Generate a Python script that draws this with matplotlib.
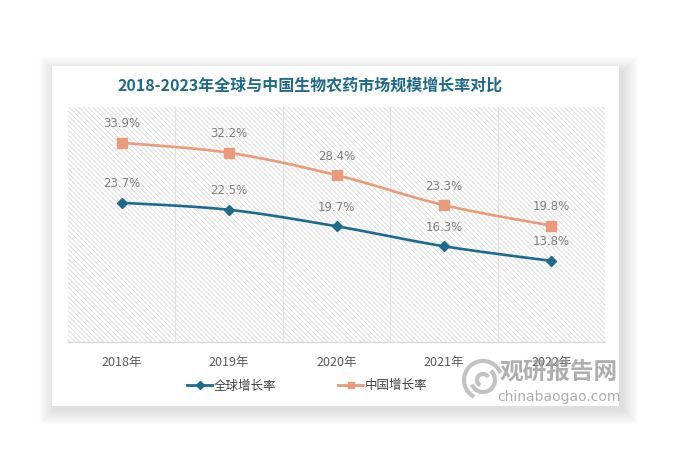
import numpy as np
import matplotlib
matplotlib.use("Agg")
import matplotlib.pyplot as plt
from matplotlib.patches import Rectangle, Arc
from matplotlib.lines import Line2D

plt.rcParams['font.family'] = ['Noto Sans CJK SC', 'DejaVu Sans']

years = ["2018年", "2019年", "2020年", "2021年", "2022年"]
global_rate = [23.7, 22.5, 19.7, 16.3, 13.8]
china_rate = [33.9, 32.2, 28.4, 23.3, 19.8]
series_names = ["全球增长率", "中国增长率"]
title = "2018-2023年全球与中国生物农药市场规模增长率对比"

BLUE = "#1C6A8E"
ORANGE = "#E99B7A"

W, H = 675, 468
fig = plt.figure(figsize=(W / 100, H / 100), dpi=100)
fig.patch.set_facecolor("white")

def fx(x):
    return x / W

def fy(y):
    return 1 - y / H

# card shadow (soft)
cx0, cy0, cx1, cy1 = 52, 66, 619, 406
for i in range(16, 0, -1):
    fig.patches.append(Rectangle((fx(cx0 - i + 3), fy(cy1 + i + 3)),
                                 (cx1 - cx0 + 2 * i) / W, (cy1 - cy0 + 2 * i - 3) / H,
                                 transform=fig.transFigure, facecolor="#000000",
                                 alpha=0.0075, edgecolor="none", zorder=0))
fig.patches.append(Rectangle((fx(cx0), fy(cy1)), (cx1 - cx0) / W, (cy1 - cy0) / H,
                             transform=fig.transFigure, facecolor="white",
                             edgecolor="none", zorder=1))

ax = fig.add_axes([fx(68), fy(342), (605 - 68) / W, (342 - 107) / H])
ax.set_zorder(2)
ax.set_facecolor("white")
plt.rcParams['hatch.color'] = "#d4d4d4"
plt.rcParams['hatch.linewidth'] = 0.5
ax.add_patch(Rectangle((0, 0), 1, 1, transform=ax.transAxes, facecolor="white",
                       edgecolor="#d4d4d4", hatch="\\" * 7, linewidth=0, zorder=0))

x = np.arange(len(years))
ax.set_xlim(-0.5, len(years) - 0.5)
ax.set_ylim(0, 40)

for b in np.arange(0.5, len(years) - 0.5, 1.0):
    ax.axvline(b, color="#e3e3e3", linewidth=0.8, zorder=1)

def smooth(xs, ys, n=30):
    xs = np.asarray(xs, float)
    ys = np.asarray(ys, float)
    px, py = [], []
    m = len(xs)
    for i in range(m - 1):
        p0 = np.array([xs[max(i - 1, 0)], ys[max(i - 1, 0)]])
        p1 = np.array([xs[i], ys[i]])
        p2 = np.array([xs[i + 1], ys[i + 1]])
        p3 = np.array([xs[min(i + 2, m - 1)], ys[min(i + 2, m - 1)]])
        c1 = p1 + (p2 - p0) / 6.0
        c2 = p2 - (p3 - p1) / 6.0
        t = np.linspace(0, 1, n)[:, None]
        pts = ((1 - t) ** 3) * p1 + 3 * ((1 - t) ** 2) * t * c1 + 3 * (1 - t) * t ** 2 * c2 + t ** 3 * p2
        px.extend(pts[:, 0])
        py.extend(pts[:, 1])
    return px, py

for vals, color, marker, ms in [(china_rate, ORANGE, "s", 6.5), (global_rate, BLUE, "D", 5.5)]:
    sx, sy = smooth(x, vals)
    ax.plot(sx, sy, color=color, linewidth=1.9, zorder=3, solid_capstyle="round")
    ax.plot(x, vals, linestyle="none", marker=marker, markersize=ms, color=color, zorder=4)
    for xi, v in zip(x, vals):
        ax.annotate(f"{v:.1f}%", (xi, v), xytext=(0, 9), textcoords="offset points",
                    ha="center", va="bottom", fontsize=8.5, color="#7f7f7f",
                    family=["DejaVu Sans"], zorder=5)

for s in ["left", "right", "top"]:
    ax.spines[s].set_visible(False)
ax.spines["bottom"].set_color("#d9d9d9")
ax.spines["bottom"].set_linewidth(1.0)
ax.set_yticks([])
ax.set_xticks(x)
ax.set_xticklabels(years, fontsize=9, color="#595959")
ax.tick_params(axis="x", length=0, pad=10)

fig.text(fx(310), fy(86), title, ha="center", va="center", fontsize=11.5,
         fontweight="bold", color="#1F6A8A", zorder=3)

handles = [Line2D([], [], color=BLUE, marker="D", markersize=4, linewidth=2),
           Line2D([], [], color=ORANGE, marker="s", markersize=5, linewidth=2)]
leg = fig.legend(handles, series_names, loc="center", bbox_to_anchor=(fx(307), fy(386)),
                 ncol=2, frameon=False, fontsize=9, handlelength=2.0, handletextpad=0.1,
                 columnspacing=5.0)
for t in leg.get_texts():
    t.set_color("#404040")

# watermark (logo swirl + text)
wm = "#a8a8a8"
for (cxp, cyp, d, th1, th2) in [(483, 380, 38, 30, 250), (483, 380, 24, 210, 420), (483, 380, 12, 40, 250)]:
    fig.patches.append(Arc((fx(cxp), fy(cyp)), d / W, d / H, theta1=th1, theta2=th2,
                           transform=fig.transFigure, color=wm, linewidth=3, alpha=0.7, zorder=6))
fig.text(fx(559), fy(372), "观研报告网", ha="center", va="center", fontsize=17,
         fontweight="bold", color="#9a9a9a", alpha=0.8, zorder=6)
fig.text(fx(559), fy(397), "chinabaogao.com", ha="center", va="center", fontsize=10,
         color="#9a9a9a", alpha=0.8, zorder=6, family=["DejaVu Sans"])

fig.savefig("out.png", dpi=100, facecolor="white")
